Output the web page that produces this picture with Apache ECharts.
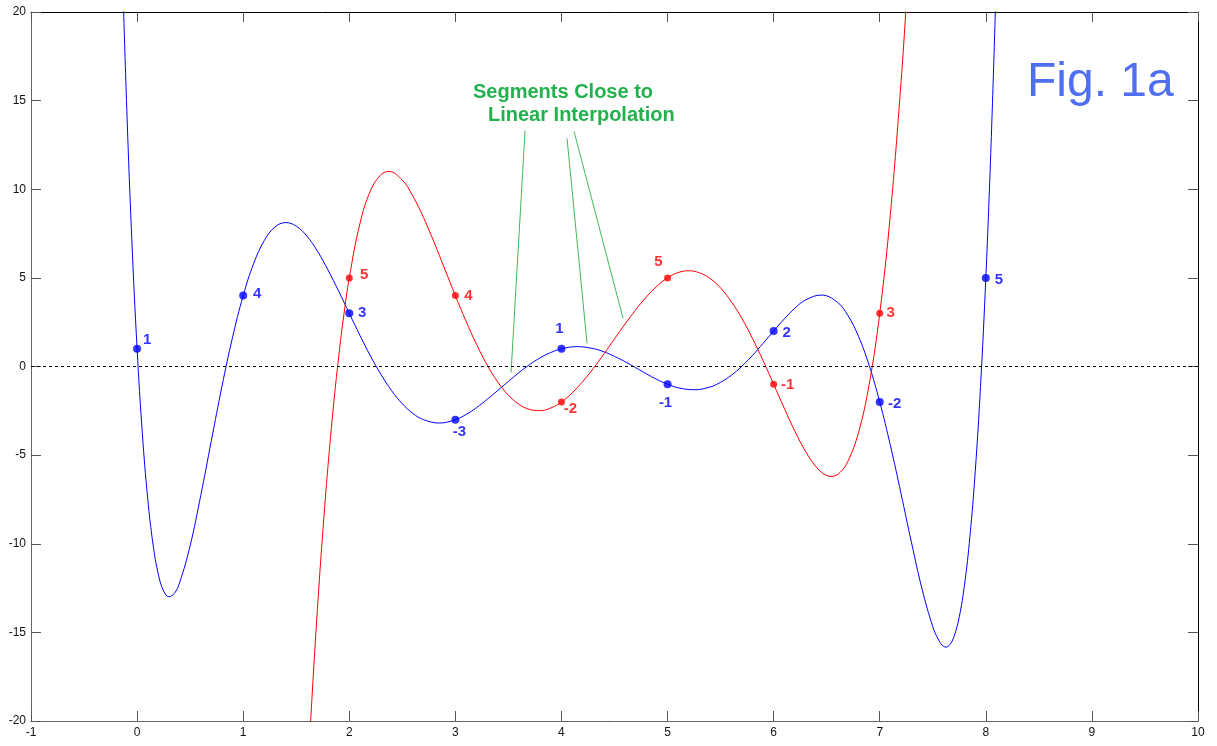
<!DOCTYPE html>
<html>
<head>
<meta charset="utf-8">
<script src="https://cdn.jsdelivr.net/npm/echarts/dist/echarts.min.js"></script>
<style>
html,body{margin:0;padding:0;background:#fff;}
#chart{width:1217px;height:746px;}
</style>
</head>
<body>
<div id="chart"></div>
<script>
// ---- data ----
const curveBlueX = [-0.15,-0.1,-0.05,0,0.05,0.1,0.15,0.2,0.25,0.3,0.35,0.4,0.5,0.6,0.7,0.8,0.9,
  1.0,1.1,1.2,1.3,1.4,1.5,1.6,1.7,1.8,1.9,
  2.0,2.1,2.2,2.3,2.4,2.5,2.6,2.7,2.85,
  3.0,3.1,3.2,3.3,3.4,3.5,3.6,3.7,3.8,3.9,
  4.0,4.15,4.3,4.4,4.5,4.6,4.7,4.8,4.9,
  5.0,5.1,5.25,5.4,5.5,5.6,5.7,5.8,5.9,
  6.0,6.1,6.2,6.3,6.45,6.6,6.7,6.8,6.9,
  7.0,7.1,7.2,7.3,7.4,7.5,7.55,7.59,7.625,7.66,7.7,7.75,7.8,7.85,7.9,7.95,
  8.0,8.05,8.1];
const curveBlueY = [24.62,15.01,7.21,1,-3.82,-7.44,-10.02,-11.72,-12.67,-12.99,-12.81,-12.21,-10.11,-7.28,-4.18,-1.12,1.65,
  4,5.83,7.12,7.87,8.12,7.92,7.36,6.51,5.44,4.25,
  3,1.76,0.59,-0.46,-1.37,-2.10,-2.65,-3.00,-3.19,
  -3,-2.71,-2.32,-1.85,-1.35,-0.84,-0.34,0.11,0.49,0.79,
  1,1.12,1.01,0.83,0.57,0.27,-0.07,-0.41,-0.73,
  -1,-1.20,-1.31,-1.16,-0.89,-0.50,0.01,0.62,1.30,
  2,2.68,3.29,3.75,4.03,3.63,2.88,1.70,0.07,
  -2,-4.44,-7.15,-9.95,-12.58,-14.68,-15.37,-15.73,-15.83,-15.70,-15.24,-14.12,-12.28,-9.60,-5.94,-1.13,
  5,12.63,21.98];

const curveRedX = [1.6,1.65,1.7,1.75,1.8,1.85,1.9,1.95,
  2.0,2.1,2.2,2.3,2.375,2.5,2.6,2.7,2.8,2.9,
  3.0,3.1,3.2,3.3,3.4,3.5,3.6,3.7,3.8,3.9,
  4.0,4.1,4.2,4.3,4.4,4.5,4.6,4.7,4.8,4.9,
  5.0,5.1,5.2,5.3,5.4,5.5,5.6,5.7,5.8,5.9,
  6.0,6.1,6.2,6.3,6.4,6.475,6.55,6.625,6.7,6.8,6.9,
  7.0,7.1,7.2,7.25,7.3];
const curveRedY = [-23.99,-18.52,-13.66,-9.36,-5.58,-2.29,0.54,2.96,
  5,8.05,9.92,10.83,11.00,10.51,9.61,8.40,7.00,5.50,
  4,2.56,1.24,0.08,-0.88,-1.62,-2.14,-2.42,-2.49,-2.34,
  -2,-1.49,-0.85,-0.11,0.71,1.56,2.40,3.20,3.92,4.53,
  5,5.30,5.40,5.29,4.97,4.43,3.67,2.72,1.59,0.34,
  -1,-2.35,-3.65,-4.78,-5.66,-6.07,-6.20,-5.98,-5.35,-3.73,-1.02,
  3,8.57,15.97,20.45,25.50];

const bluePointsX = [0,1,2,3,4,5,6,7,8];
const bluePointsY = [1,4,3,-3,1,-1,2,-2,5];
const redPointsX = [2,3,4,5,6,7];
const redPointsY = [5,4,-2,5,-1,3];

// annotation pointer lines (data coordinates)
const pointerStartX = [3.657,4.053,4.119];
const pointerStartY = [13.31,12.86,13.26];
const pointerEndX = [3.525,4.241,4.581];
const pointerEndY = [-0.34,1.30,2.71];

const annotationLines = ['Segments Close to','Linear Interpolation'];
const figTitle = 'Fig. 1a';

// ---- styling (label placement offsets in pixels) ----
const blueLabelOffsets = [[10,-9],[14,-2],[13,0],[4,12],[-2,-20],[-2,19],[13,2],[15,2],[13,2]];
const redLabelOffsets = [[15,-3],[13,0],[9,7],[-9,-16],[14,1],[11,0]];

const BLUE = '#0000FF';
const RED = '#FF0000';
const GREEN = '#22B14C';
const FONT = '"Liberation Sans", Arial, sans-serif';

const zip = (xs, ys) => xs.map((x, i) => [x, ys[i]]);

const pointerSeries = pointerStartX.map((x, i) => ({
  type: 'line',
  data: [[x, pointerStartY[i]], [pointerEndX[i], pointerEndY[i]]],
  showSymbol: false,
  symbol: 'none',
  lineStyle: {color: '#3DBB5C', width: 1},
  silent: true,
  z: 2
}));

const labelBase = {
  show: true,
  position: 'inside',
  fontWeight: 'bold',
  fontSize: 15,
  fontFamily: FONT,
  formatter: p => String(p.value[1])
};

const option = {
  animation: false,
  backgroundColor: '#fff',
  grid: {left: 31, right: 19, top: 12, bottom: 25, containLabel: false},
  xAxis: [
    {
      type: 'value', position: 'bottom', min: -1, max: 10, interval: 1,
      axisLine: {show: true, onZero: false, lineStyle: {color: '#666', width: 1}},
      axisTick: {show: true, inside: true, length: 10, lineStyle: {color: '#555'}},
      axisLabel: {color: '#111', fontSize: 12, fontFamily: FONT, margin: 6},
      splitLine: {show: false}
    },
    {
      type: 'value', position: 'top', min: -1, max: 10, interval: 1,
      axisLine: {show: true, onZero: false, lineStyle: {color: '#000', width: 1}},
      axisTick: {show: true, inside: true, length: 10, lineStyle: {color: '#555'}},
      axisLabel: {show: false},
      splitLine: {show: false}
    }
  ],
  yAxis: [
    {
      type: 'value', position: 'left', min: -20, max: 20, interval: 5,
      axisLine: {show: true, onZero: false, lineStyle: {color: '#666', width: 1}},
      axisTick: {show: true, inside: true, length: 10, lineStyle: {color: '#555'}},
      axisLabel: {color: '#111', fontSize: 12, fontFamily: FONT, margin: 5},
      splitLine: {show: false}
    },
    {
      type: 'value', position: 'right', min: -20, max: 20, interval: 5,
      axisLine: {show: true, onZero: false, lineStyle: {color: '#000', width: 1}},
      axisTick: {show: true, inside: true, length: 10, lineStyle: {color: '#555'}},
      axisLabel: {show: false},
      splitLine: {show: false}
    }
  ],
  series: [
    {
      type: 'line',
      data: zip(curveBlueX, curveBlueY),
      smooth: 0.4,
      showSymbol: false,
      symbol: 'none',
      lineStyle: {color: BLUE, width: 1},
      clip: true,
      z: 3,
      markLine: {
        silent: true,
        symbol: ['none', 'none'],
        label: {show: false},
        lineStyle: {color: '#000', type: [3, 3], width: 1},
        data: [{yAxis: 0}]
      }
    },
    {
      type: 'line',
      data: zip(curveRedX, curveRedY),
      smooth: 0.4,
      showSymbol: false,
      symbol: 'none',
      lineStyle: {color: RED, width: 1},
      clip: true,
      z: 3
    },
    ...pointerSeries,
    {
      type: 'scatter',
      symbol: 'circle',
      symbolSize: 8,
      itemStyle: {color: BLUE},
      label: Object.assign({}, labelBase, {color: BLUE}),
      data: bluePointsX.map((x, i) => ({value: [x, bluePointsY[i]], label: {offset: blueLabelOffsets[i]}})),
      z: 5
    },
    {
      type: 'scatter',
      symbol: 'circle',
      symbolSize: 7,
      itemStyle: {color: RED},
      label: Object.assign({}, labelBase, {color: RED}),
      data: redPointsX.map((x, i) => ({value: [x, redPointsY[i]], label: {offset: redLabelOffsets[i]}})),
      z: 5
    }
  ],
  graphic: [
    {type: 'text', x: 473, y: 92, style: {text: annotationLines[0], font: 'bold 20px ' + FONT, fill: GREEN, verticalAlign: 'middle'}},
    {type: 'text', x: 488, y: 115, style: {text: annotationLines[1], font: 'bold 20px ' + FONT, fill: GREEN, verticalAlign: 'middle'}},
    {type: 'text', x: 1027, y: 83, style: {text: figTitle, font: '48px ' + FONT, fill: '#4F6EF0', verticalAlign: 'middle'}}
  ]
};

const chart = echarts.init(document.getElementById('chart'), null, {renderer: 'canvas'});
chart.setOption(option);
</script>
</body>
</html>
